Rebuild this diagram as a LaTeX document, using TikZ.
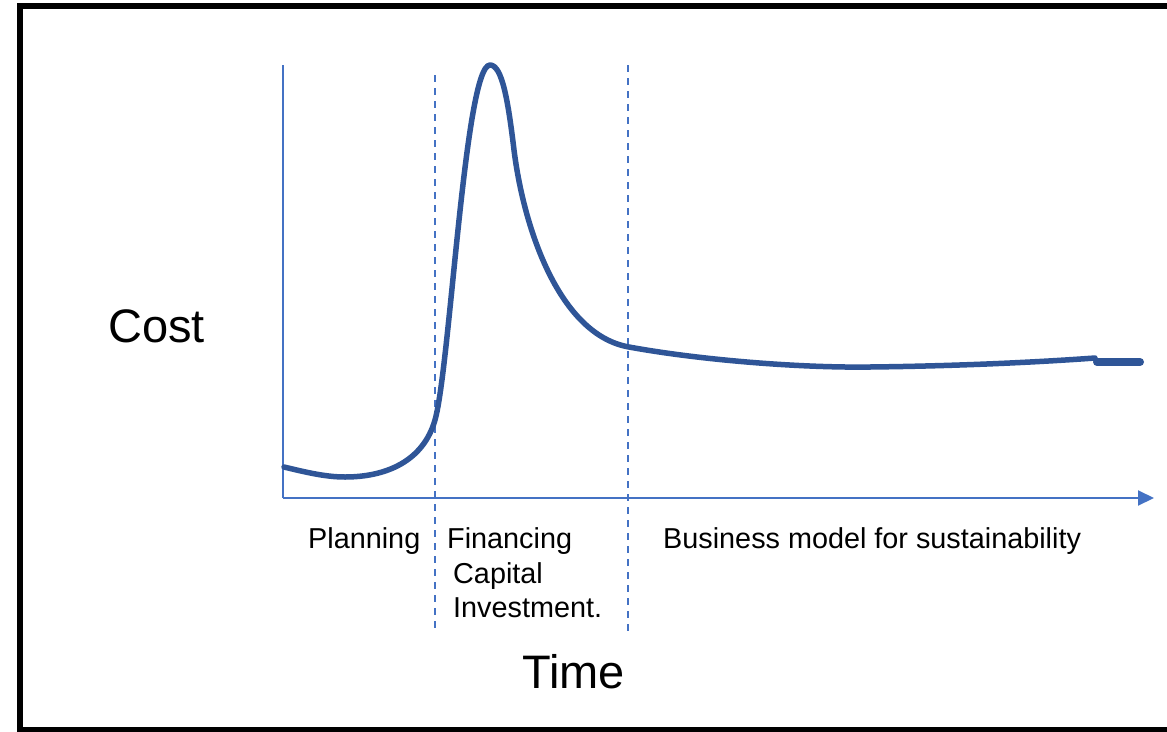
\documentclass[tikz,border=0pt]{standalone}
\usepackage{fontspec}
\setmainfont{Liberation Sans}
\usetikzlibrary{arrows.meta}
\definecolor{curveblue}{HTML}{2F5597}
\definecolor{axisblue}{HTML}{4472C4}
\tikzset{
  axisline/.style={draw=axisblue, line width=2pt},
  divider/.style={draw=axisblue, line width=2pt, dash pattern=on 7pt off 6pt},
  costcurve/.style={draw=curveblue, line width=5.5pt, line cap=round, line join=round},
  bigtext/.style={font=\fontsize{47}{56}\selectfont, inner sep=0pt, anchor=base west},
  smalltext/.style={font=\fontsize{28.8}{34}\selectfont, inner sep=0pt, anchor=base west},
}
\begin{document}
\begin{tikzpicture}[x=1pt, y=-1pt]
\useasboundingbox (0,0) rectangle (1167,731);
\clip (0,0) rectangle (1167,731);
\fill[white] (0,0) rectangle (1167,731);
% frame
\draw[line width=6pt] (20,6) rectangle (1190,730);
% axes
\coordinate (ytop) at (283,65);
\coordinate (origin) at (283,498);
\coordinate (xend) at (1154,498);
\draw[axisline] (ytop) -- (origin);
\draw[axisline, -{Triangle[length=16pt,width=15pt]}] (origin) -- (xend);
% dividers
\coordinate (d1t) at (435,75);
\coordinate (d1b) at (435,632);
\coordinate (d2t) at (628,65);
\coordinate (d2b) at (628,636);
\draw[divider] (d1t) -- (d1b);
\draw[divider] (d2t) -- (d2b);
% curve
\draw[costcurve] (284,467) .. controls (305,472) and (325,477) .. (345,477)
  .. controls (385,477) and (423,462) .. (435,420)
  .. controls (450,367) and (465,65) .. (490,65)
  .. controls (502,65) and (508,100) .. (514,150)
  .. controls (524,230) and (560,335) .. (629,347)
  .. controls (700,360) and (800,368) .. (870,367)
  .. controls (960,366) and (1040,362) .. (1095,358);
\draw[draw=curveblue, line width=8pt, line cap=round] (1097,362) -- (1140,362);
% labels
\node[bigtext] (cost) at (108,342) {Cost};
\node[bigtext] (time) at (522,688) {Time};
\node[smalltext] (plan) at (308,548) {Planning};
\node[smalltext] (fin) at (447,548) {Financing};
\node[smalltext] (cap) at (453,583) {Capital};
\node[smalltext] (inv) at (453,617) {Investment.};
\node[smalltext] (bus) at (663,548) {Business model for sustainability};
\end{tikzpicture}
\end{document}
